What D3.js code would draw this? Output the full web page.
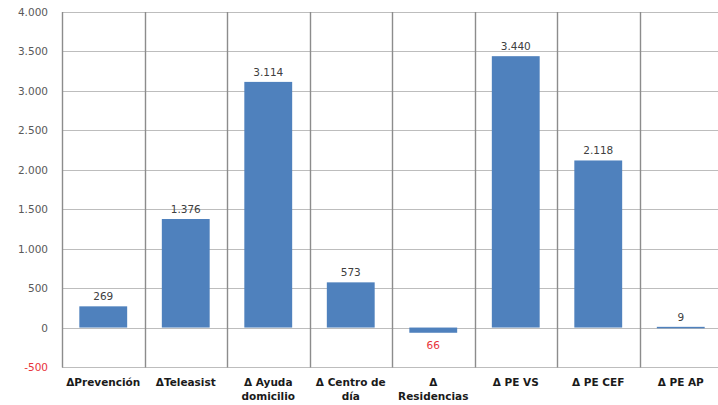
<!DOCTYPE html>
<html><head><meta charset="utf-8">
<script src="https://cdn.jsdelivr.net/npm/d3@7"></script>
<style>body{margin:0;background:#fff;}svg{display:block;}</style>
</head><body>
<svg id="c" width="718" height="405"></svg>
<script>
const categories = [["ΔPrevención"],["ΔTeleasist"],["Δ Ayuda","domicilio"],["Δ Centro de","día"],["Δ","Residencias"],["Δ PE VS"],["Δ PE CEF"],["Δ PE AP"]];
const values = [269, 1376, 3114, 573, -66, 3440, 2118, 9];
const yTicks = [-500, 0, 500, 1000, 1500, 2000, 2500, 3000, 3500, 4000];

(function() {
const svg = d3.select("#c");
const pLeft = 62, pRight = 722, pTop = 12, pBottom = 367;
const x = d3.scaleBand().domain(d3.range(categories.length)).range([pLeft, pRight]).paddingInner(0.42).paddingOuter(0.21);
const y = d3.scaleLinear().domain([-500, 4000]).range([pBottom, pTop]);
const fmt = v => d3.format(",")(v).replace(/,/g, ".");
const step = (pRight - pLeft) / categories.length;

// horizontal gridlines
svg.append("g").selectAll("line").data(yTicks).join("line")
  .attr("x1", pLeft).attr("x2", pRight)
  .attr("y1", d => Math.round(y(d)) + 0.5).attr("y2", d => Math.round(y(d)) + 0.5)
  .attr("stroke", "#bdbdbd").attr("stroke-width", 1.2);

// vertical category boundaries
svg.append("g").selectAll("line").data(d3.range(categories.length + 1)).join("line")
  .attr("x1", i => Math.round(pLeft + i * step) + 0.5).attr("x2", i => Math.round(pLeft + i * step) + 0.5)
  .attr("y1", pTop).attr("y2", pBottom + 0.5)
  .attr("stroke", "#8c8c8c").attr("stroke-width", 1.4);

// bars
svg.append("g").selectAll("rect").data(values).join("rect")
  .attr("x", (d, i) => x(i)).attr("width", x.bandwidth())
  .attr("y", d => y(Math.max(0, d))).attr("height", d => Math.max(1.5, Math.abs(y(d) - y(0))))
  .attr("fill", "#4f81bd");

// value labels
svg.append("g").selectAll("text").data(values).join("text")
  .attr("x", (d, i) => x(i) + x.bandwidth() / 2)
  .attr("y", d => d >= 0 ? y(d) - 6 : y(d) + 16)
  .attr("text-anchor", "middle")
  .attr("font-family", "DejaVu Sans, Verdana, sans-serif").attr("font-size", 10.5)
  .attr("fill", d => d < 0 ? "#e8333a" : "#404040")
  .text(d => fmt(d).replace("-", "").replace("−", ""));

// y axis labels
svg.append("g").selectAll("text").data(yTicks).join("text")
  .attr("x", 48).attr("y", d => y(d) + 4)
  .attr("text-anchor", "end")
  .attr("font-family", "DejaVu Sans, Verdana, sans-serif").attr("font-size", 10.5)
  .attr("fill", d => d < 0 ? "#e8333a" : "#595959")
  .text(d => fmt(d).replace("−", "-"));

// category labels
const cg = svg.append("g").selectAll("text").data(categories).join("text")
  .attr("x", (d, i) => x(i) + x.bandwidth() / 2)
  .attr("y", 386)
  .attr("text-anchor", "middle")
  .attr("font-family", "DejaVu Sans, Verdana, sans-serif").attr("font-size", 10.5)
  .attr("font-weight", "bold").attr("fill", "#1a1a1a");
cg.selectAll("tspan").data(d => d).join("tspan")
  .attr("x", function() { return d3.select(this.parentNode).attr("x"); })
  .attr("dy", (d, j) => j === 0 ? 0 : 14)
  .text(d => d);
})();
</script>
</body></html>
